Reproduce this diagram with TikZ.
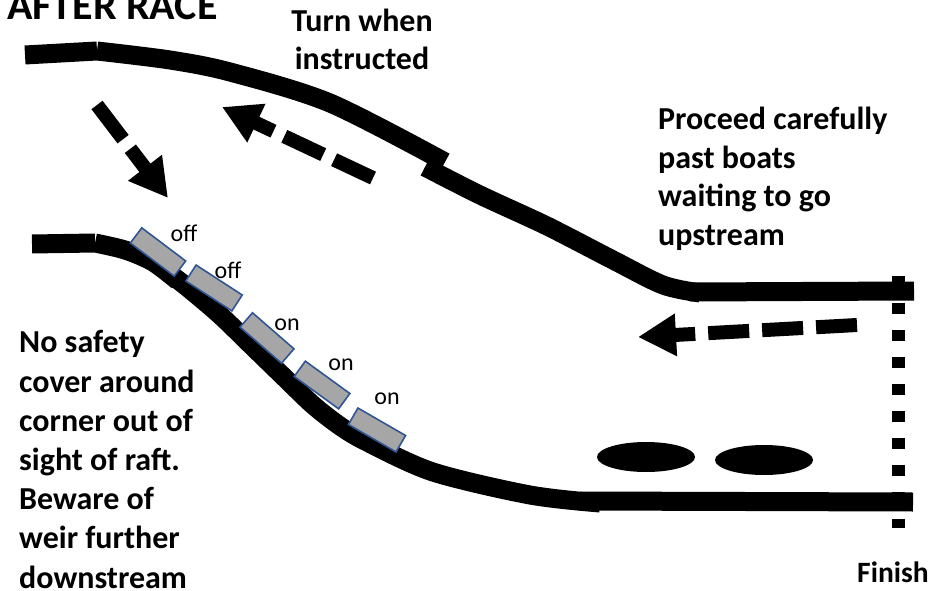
\documentclass[tikz,border=0pt]{standalone}
\usepackage{fontspec}
\setmainfont{Carlito}
\usetikzlibrary{arrows.meta,positioning,shapes.geometric}
\definecolor{raftgrey}{RGB}{166,166,166}
\definecolor{raftblue}{RGB}{47,85,151}
\begin{document}
\begin{tikzpicture}[x=1pt,y=-1pt,
    bank/.style = {line width=19pt},
    raft/.style = {draw=raftblue, fill=raftgrey, line width=1.6pt, minimum width=55pt, minimum height=19pt, inner sep=0pt},
    tag/.style = {font=\fontsize{24}{28}\selectfont, inner sep=0pt},
    flow/.style = {line width=14pt, dash pattern=on 43pt off 12pt, -{Triangle[width=40pt,length=38pt]}},
    note/.style = {font=\bfseries\fontsize{32}{39.2}\selectfont, align=left, inner sep=0pt},
    boat/.style = {ellipse, fill=black, minimum width=98pt, minimum height=30pt, inner sep=0pt},
    finishline/.style = {line width=13pt, dash pattern=on 11pt off 16pt}]
\useasboundingbox (0,0) rectangle (932,591);

% banks
\draw[bank] (25,55) -- (97,51) plot[smooth] coordinates {(97,51) (170,60) (230,72) (330,103) (445,162)};
\draw[bank] plot[smooth] coordinates {(425,167) (480,195) (547,226) (613,260) (663,285) (700,293)};
\draw[bank] (690,292) -- (914,291);
\draw[bank] (32,244) -- (95,243) plot[smooth] coordinates {(95,243) (125,250) (153,262) (178,281)};
\draw[bank] plot[smooth] coordinates {(166,271) (187,287) (220,315) (253,347) (287,380) (313,405) (340,426) (367,442) (433,472) (530,495) (600,503)};
\draw[bank] (580,501) -- (913,502);

% finish line
\coordinate (f1) at (898,276);
\coordinate (f2) at (898,528);
\draw[finishline] (f1) -- (f2);

% rafts
\node[raft, rotate=-37] (r1) at (158,252) {};
\node[raft, rotate=-33] (r2) at (214,288) {};
\node[raft, rotate=-41] (r3) at (267,338) {};
\node[raft, rotate=-36] (r4) at (322,385) {};
\node[raft, rotate=-30] (r5) at (377,430) {};
\node[tag] (t1) at (184,233) {off};
\node[tag] (t2) at (228,270) {off};
\node[tag] (t3) at (287,325) {on};
\node[tag] (t4) at (341,365) {on};
\node[tag] (t5) at (387,399) {on};

% boats waiting
\node[boat] (b1) at (646,457) {};
\node[boat] (b2) at (764,460) {};

% flow arrows
\coordinate (a1) at (97,105);
\coordinate (a2) at (168,198);
\coordinate (a3) at (373,178);
\coordinate (a4) at (222,107);
\coordinate (a5) at (857,325);
\coordinate (a6) at (638,337);
\draw[flow] (a1) -- (a2);
\draw[flow] (a3) -- (a4);
\draw[flow, dash pattern=on 41pt off 13pt] (a5) -- (a6);

% texts
\node[note, anchor=base west, font=\bfseries\fontsize{42}{48}\selectfont] (title) at (7,20) {AFTER RACE};
\node[note, anchor=base, align=center, font=\bfseries\fontsize{32}{38}\selectfont] (turn) at (362,70) {Turn when\\instructed};
\node[note, anchor=base west, font=\bfseries\fontsize{32}{38.5}\selectfont] (proceed) at (658,245) {Proceed carefully\\past boats\\waiting to go\\upstream};
\node[note, anchor=base west] (safety) at (19,588) {No safety\\cover around\\corner out of\\sight of raft.\\Beware of\\weir further\\downstream};
\node[note, anchor=base west, font=\bfseries\fontsize{29.5}{36}\selectfont] (finish) at (857,582) {Finish};
\end{tikzpicture}
\end{document}
